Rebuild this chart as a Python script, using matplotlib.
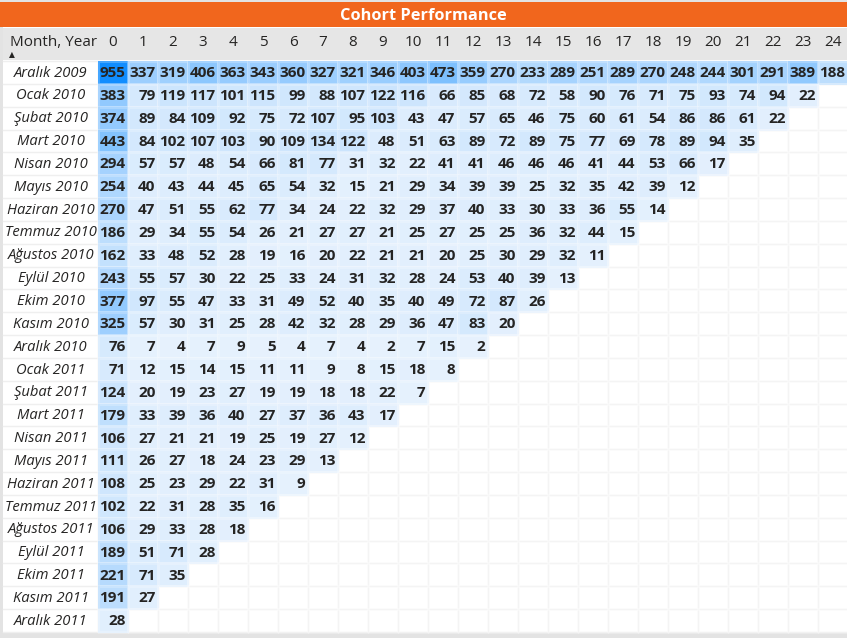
import numpy as np
import matplotlib.pyplot as plt
from matplotlib.colors import LinearSegmentedColormap, Normalize
from matplotlib.patches import Rectangle

cohorts = ['Aralık 2009', 'Ocak 2010', 'Şubat 2010', 'Mart 2010', 'Nisan 2010',
           'Mayıs 2010', 'Haziran 2010', 'Temmuz 2010', 'Ağustos 2010', 'Eylül 2010',
           'Ekim 2010', 'Kasım 2010', 'Aralık 2010', 'Ocak 2011', 'Şubat 2011',
           'Mart 2011', 'Nisan 2011', 'Mayıs 2011', 'Haziran 2011', 'Temmuz 2011',
           'Ağustos 2011', 'Eylül 2011', 'Ekim 2011', 'Kasım 2011', 'Aralık 2011']
months = list(range(25))

counts = [
    [955, 337, 319, 406, 363, 343, 360, 327, 321, 346, 403, 473, 359, 270, 233, 289, 251, 289, 270, 248, 244, 301, 291, 389, 188],
    [383, 79, 119, 117, 101, 115, 99, 88, 107, 122, 116, 66, 85, 68, 72, 58, 90, 76, 71, 75, 93, 74, 94, 22],
    [374, 89, 84, 109, 92, 75, 72, 107, 95, 103, 43, 47, 57, 65, 46, 75, 60, 61, 54, 86, 86, 61, 22],
    [443, 84, 102, 107, 103, 90, 109, 134, 122, 48, 51, 63, 89, 72, 89, 75, 77, 69, 78, 89, 94, 35],
    [294, 57, 57, 48, 54, 66, 81, 77, 31, 32, 22, 41, 41, 46, 46, 46, 41, 44, 53, 66, 17],
    [254, 40, 43, 44, 45, 65, 54, 32, 15, 21, 29, 34, 39, 39, 25, 32, 35, 42, 39, 12],
    [270, 47, 51, 55, 62, 77, 34, 24, 22, 32, 29, 37, 40, 33, 30, 33, 36, 55, 14],
    [186, 29, 34, 55, 54, 26, 21, 27, 27, 21, 25, 27, 25, 25, 36, 32, 44, 15],
    [162, 33, 48, 52, 28, 19, 16, 20, 22, 21, 21, 20, 25, 30, 29, 32, 11],
    [243, 55, 57, 30, 22, 25, 33, 24, 31, 32, 28, 24, 53, 40, 39, 13],
    [377, 97, 55, 47, 33, 31, 49, 52, 40, 35, 40, 49, 72, 87, 26],
    [325, 57, 30, 31, 25, 28, 42, 32, 28, 29, 36, 47, 83, 20],
    [76, 7, 4, 7, 9, 5, 4, 7, 4, 2, 7, 15, 2],
    [71, 12, 15, 14, 15, 11, 11, 9, 8, 15, 18, 8],
    [124, 20, 19, 23, 27, 19, 19, 18, 18, 22, 7],
    [179, 33, 39, 36, 40, 27, 37, 36, 43, 17],
    [106, 27, 21, 21, 19, 25, 19, 27, 12],
    [111, 26, 27, 18, 24, 23, 29, 13],
    [108, 25, 23, 29, 22, 31, 9],
    [102, 22, 31, 28, 35, 16],
    [106, 29, 33, 28, 18],
    [189, 51, 71, 28],
    [221, 71, 35],
    [191, 27],
    [28],
]

plt.rcParams['font.family'] = ['Open Sans', 'DejaVu Sans']

W, H = 847, 638
# pixel layout of the table
x0, cw = 98, 30.0     # left edge of column 0, cell width
y0, rh = 61, 22.84    # top edge of first row, row height

nr, nc = len(cohorts), len(months)
grid = np.full((nr, nc), np.nan)
for i, row in enumerate(counts):
    grid[i, :len(row)] = row
data = np.ma.masked_invalid(grid)

fig = plt.figure(figsize=(W / 100, H / 100), dpi=100, facecolor='#e3e3e3')
ax = fig.add_axes([0, 0, 1, 1])
ax.set_xlim(-x0 / cw, (W - x0) / cw)
ax.set_ylim((H - y0) / rh, -y0 / rh)
ax.axis('off')

def px(x):
    return (x - x0) / cw

def py(y):
    return (y - y0) / rh

# white panel
ax.add_patch(Rectangle((px(3), py(27)), (W - 3) / cw, 606 / rh,
                       facecolor='white', edgecolor='none', zorder=0))

# grid lines on white area
for i in range(nr + 1):
    ax.plot([px(3), nc], [i, i], color='#efefef', lw=1, zorder=1)
for j in range(nc + 1):
    ax.plot([j, j], [0, nr], color='#efefef', lw=1, zorder=1)

cmap = LinearSegmentedColormap.from_list('pbi', ['#e6f1fd', '#118dff'])
norm = Normalize(vmin=np.nanmin(grid), vmax=np.nanmax(grid))
ax.pcolormesh(np.arange(nc + 1), np.arange(nr + 1), data, cmap=cmap, norm=norm,
              edgecolors=(1, 1, 1, 0.22), linewidth=0.8, zorder=2)

for i, row in enumerate(counts):
    for j, v in enumerate(row):
        ax.text(j + 1 - 0.08, i + 0.53, str(v), ha='right', va='center',
                fontsize=11, fontweight='bold', color='#252423', zorder=3)
    ax.text(px(51), i + 0.53, cohorts[i], ha='center', va='center',
            fontsize=10.6, style='italic', color='#252423', zorder=3)

# header
ax.add_patch(Rectangle((px(3), py(28)), (W - 3) / cw, 32 / rh,
                       facecolor='#e6e6e6', edgecolor='none', zorder=1))
for j in months:
    ax.text(j + 0.5, py(42), str(j), ha='center', va='center',
            fontsize=11, color='#252423', zorder=3)
ax.text(px(10), py(42), 'Month, Year', ha='left', va='center',
        fontsize=11, color='#252423', zorder=3)
ax.text(px(12), py(55), '▲', ha='center', va='center',
        fontsize=5.5, color='#252423', family='DejaVu Sans', zorder=3)

# title bar
ax.add_patch(Rectangle((px(0), py(2)), W / cw, 25 / rh,
                       facecolor='#f1661d', edgecolor='none', zorder=1))
ax.text(px(W / 2), py(16), 'Cohort Performance', ha='center', va='center',
        fontsize=11.8, fontweight='bold', color='white', zorder=3)

fig.savefig('out.png', dpi=100)
